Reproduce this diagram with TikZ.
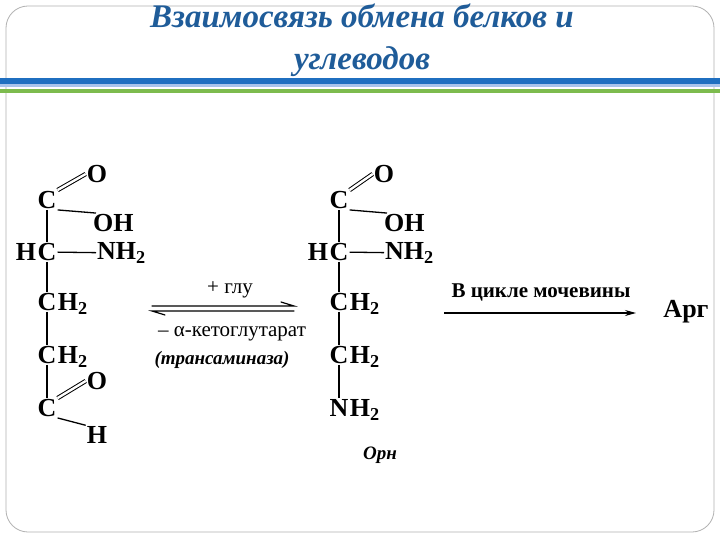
\documentclass[tikz,border=0pt]{standalone}
\usepackage{fontspec}
\setmainfont{Liberation Serif}
\usetikzlibrary{arrows.meta}
\definecolor{ttl}{HTML}{1F5C99}
\definecolor{bblue}{HTML}{1F6FC0}
\definecolor{lblue}{HTML}{A9C4EB}
\definecolor{gre}{HTML}{7DBB4E}
\tikzset{
 atom/.style={font=\bfseries\fontsize{26}{26}\selectfont,inner sep=1pt},
 sub/.style={font=\bfseries\fontsize{26}{26}\selectfont,inner sep=0pt,anchor=base west},
 bond/.style={line width=1.3pt},
 dbl/.style={double,line width=1pt,double distance=2.4pt},
 lbl/.style={font=\fontsize{21}{21}\selectfont,inner sep=1pt}
}
\begin{document}
\begin{tikzpicture}[x=1pt,y=-1pt]
\useasboundingbox (0,0) rectangle (720,540);
\fill[white] (0,0) rectangle (720,540);
\draw[gray!60,line width=0.8pt,rounded corners=22pt] (6,6) rectangle (714,532);
\fill[bblue] (0,78) rectangle (720,84);
\fill[lblue] (0,84) rectangle (720,87);
\fill[gre] (0,89) rectangle (720,93);
\node[font=\bfseries\itshape\fontsize{33}{42}\selectfont,text=ttl,align=center] (title) at (362,40) {Взаимосвязь обмена белков и\\углеводов};
% left molecule
\node[atom] (aC1) at (47,200) {C};
\node[atom] (aO1) at (97,174) {O};
\node[atom,anchor=west] (aOH) at (92,223) {OH};
\node[atom] (aC2) at (47,252) {C};
\node[atom,anchor=base east,inner sep=0pt] (aH2) at (aC2.base west) {H};
\node[atom,anchor=west] (aN) at (96,253) {NH\textsubscript{2}};
\node[atom] (aC3) at (47,302) {C};
\node[sub] at (aC3.base east) {H\textsubscript{2}};
\node[atom] (aC4) at (47,355) {C};
\node[sub] at (aC4.base east) {H\textsubscript{2}};
\node[atom] (aO2) at (97,381) {O};
\node[atom] (aC5) at (47,408) {C};
\node[atom] (aH) at (97,435) {H};
\draw[dbl] (aC1.north east) -- (aO1.west);
\draw[bond] (aC1.south east) -- ([xshift=4pt]aOH.north west);
\draw[bond] (aC1) -- (aC2);
\draw[bond] (aC2) -- (aN);
\draw[bond] (aC2) -- (aC3);
\draw[bond] (aC3) -- (aC4);
\draw[bond] (aC4) -- (aC5);
\draw[dbl] (aC5.north east) -- (aO2.west);
\draw[bond] (aC5.south east) -- (aH.north west);
% right molecule
\node[atom] (bC1) at (339,200) {C};
\node[atom] (bO1) at (384,174) {O};
\node[atom,anchor=west] (bOH) at (383,223) {OH};
\node[atom] (bC2) at (339,252) {C};
\node[atom,anchor=base east,inner sep=0pt] (bH2) at (bC2.base west) {H};
\node[atom,anchor=west] (bN) at (384,253) {NH\textsubscript{2}};
\node[atom] (bC3) at (339,302) {C};
\node[sub] at (bC3.base east) {H\textsubscript{2}};
\node[atom] (bC4) at (339,355) {C};
\node[sub] at (bC4.base east) {H\textsubscript{2}};
\node[atom] (bN2) at (339,408) {N};
\node[sub] at (bN2.base east) {H\textsubscript{2}};
\node[font=\bfseries\itshape\fontsize{19}{19}\selectfont] (orn) at (380,455) {Орн};
\draw[dbl] (bC1.north east) -- (bO1.west);
\draw[bond] (bC1.south east) -- ([xshift=4pt]bOH.north west);
\draw[bond] (bC1) -- (bC2);
\draw[bond] (bC2) -- (bN);
\draw[bond] (bC2) -- (bC3);
\draw[bond] (bC3) -- (bC4);
\draw[bond] (bC4) -- (bN2);
% equilibrium arrows (harpoons)
\coordinate (e1) at (152,306); \coordinate (e2) at (294,306);
\coordinate (f1) at (152,311); \coordinate (f2) at (294,311);
\draw[line width=1.2pt,line cap=round] (e1) -- (e2) -- ++(-13,-4);
\draw[line width=1.2pt,line cap=round] (f2) -- (f1) -- ++(13,4);
\node[lbl] (glu) at (230,290) {+ глу};
\node[lbl] (akg) at (232,334) {– α-кетоглутарат};
\node[lbl,font=\bfseries\itshape\fontsize{19}{19}\selectfont] (tra) at (222,360) {(трансаминаза)};
% urea cycle arrow
\node[atom] (arg) at (686,312) {Арг};
\coordinate (u1) at (444,313); \coordinate (u2) at (636,313);
\draw[line width=1.3pt,-{Stealth[length=11pt,width=6pt]}] (u1) -- (u2);
\node[font=\bfseries\fontsize{21}{21}\selectfont] (uc) at (541,292) {В цикле мочевины};
\end{tikzpicture}
\end{document}
